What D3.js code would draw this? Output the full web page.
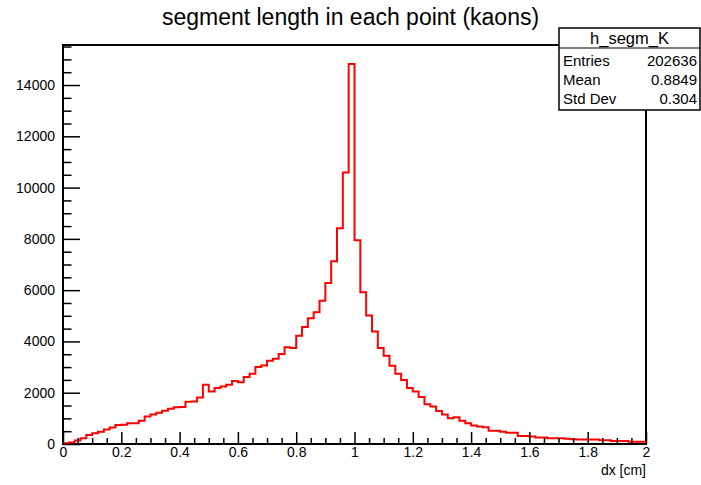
<!DOCTYPE html>
<html>
<head>
<meta charset="utf-8">
<script src="https://cdn.jsdelivr.net/npm/d3@7"></script>
<style>
  html, body { margin: 0; padding: 0; background: #fff; }
  svg { display: block; font-family: "Liberation Sans", Arial, Helvetica, sans-serif; }
</style>
</head>
<body>
<svg id="chart" width="701" height="485"></svg>
<script>
// ---- data ----
const title = "segment length in each point (kaons)";
const xLabel = "dx [cm]";
const histName = "h_segm_K";
const xMin = 0, xMax = 2, binWidth = 0.02;
const binCounts = [
  30, 60, 140, 220, 350, 420, 480, 570, 640, 740,
  750, 810, 810, 910, 1070, 1150, 1220, 1300, 1370, 1430,
  1440, 1650, 1660, 1810, 2310, 2050, 2180, 2240, 2310, 2460,
  2410, 2610, 2740, 3000, 3060, 3250, 3320, 3510, 3770, 3740,
  4220, 4560, 4900, 5140, 5590, 6280, 7130, 8410, 10590, 14820,
  7950, 5920, 5010, 4390, 3740, 3440, 3050, 2740, 2500, 2180,
  2050, 1830, 1550, 1460, 1290, 1150, 1000, 1040, 910, 810,
  720, 680, 650, 520, 520, 480, 440, 440, 310, 310,
  290, 250, 250, 220, 220, 220, 200, 190, 180, 180,
  180, 180, 145, 145, 120, 120, 120, 90, 90, 90
];
const xTicks = [0, 0.2, 0.4, 0.6, 0.8, 1, 1.2, 1.4, 1.6, 1.8, 2];
const yTicks = [0, 2000, 4000, 6000, 8000, 10000, 12000, 14000];
const statLabels = ["Entries", "Mean", "Std Dev"];
const statValues = ["202636", "0.8849", "0.304"];

// ---- layout ----
const W = 701, H = 485;
const frame = { left: 63, right: 646, top: 45, bottom: 444 };
const yMax = d3.max(binCounts) * 1.05;

const svg = d3.select("#chart");
const x = d3.scaleLinear().domain([xMin, xMax]).range([frame.left, frame.right]);
const y = d3.scaleLinear().domain([0, yMax]).range([frame.bottom, frame.top]);

// frame
svg.append("rect")
  .attr("x", frame.left).attr("y", frame.top)
  .attr("width", frame.right - frame.left).attr("height", frame.bottom - frame.top)
  .attr("fill", "none").attr("stroke", "#000").attr("stroke-width", 2);

// histogram step line
const pts = [[xMin, 0]];
binCounts.forEach((v, i) => pts.push([xMin + i * binWidth, v]));
pts.push([xMax, binCounts[binCounts.length - 1]]);
pts.push([xMax, 0]);
const line = d3.line().x(d => x(d[0])).y(d => y(d[1])).curve(d3.curveStepAfter);
svg.append("path").attr("d", line(pts))
  .attr("fill", "none").attr("stroke", "#ff0000").attr("stroke-width", 2)
  .attr("stroke-linejoin", "miter");

// x axis minor ticks
const xMinor = d3.range(0, 41).map(i => i * 0.05).filter(v => Math.abs(v * 5 - Math.round(v * 5)) > 1e-6);
const gxMinor = svg.append("g").attr("transform", `translate(0,${frame.bottom})`)
  .call(d3.axisBottom(x).tickValues(xMinor).tickSize(-6).tickFormat(""));
gxMinor.select(".domain").remove();
// x axis major
const gx = svg.append("g").attr("transform", `translate(0,${frame.bottom})`)
  .call(d3.axisBottom(x).tickValues(xTicks).tickSize(-12).tickPadding(3).tickFormat(d3.format("")));
gx.select(".domain").remove();
gx.selectAll("text").attr("font-size", 14).attr("fill", "#000")
  .attr("font-family", "'Liberation Sans', Arial, sans-serif");

// y axis minor
const yMinor = d3.range(0, 32).map(i => i * 500).filter(v => v % 2000 !== 0 && v <= yMax);
const gyMinor = svg.append("g").attr("transform", `translate(${frame.left},0)`)
  .call(d3.axisLeft(y).tickValues(yMinor).tickSize(-8.5).tickFormat(""));
gyMinor.select(".domain").remove();
const gy = svg.append("g").attr("transform", `translate(${frame.left},0)`)
  .call(d3.axisLeft(y).tickValues(yTicks).tickSize(-17).tickPadding(8).tickFormat(d3.format("")));
gy.select(".domain").remove();
gy.selectAll("text").attr("font-size", 14).attr("fill", "#000")
  .attr("font-family", "'Liberation Sans', Arial, sans-serif");
svg.selectAll(".tick line").attr("stroke", "#000").attr("stroke-width", 1.5);

// axis title
svg.append("text").attr("x", frame.right).attr("y", 475)
  .attr("text-anchor", "end").attr("font-size", 14).text(xLabel);

// title
svg.append("text").attr("x", W / 2).attr("y", 25)
  .attr("text-anchor", "middle").attr("font-size", 23).text(title);

// stats box
const box = { left: 559, right: 700, top: 28, head: 48, bottom: 110 };
svg.append("rect").attr("x", box.left).attr("y", box.top)
  .attr("width", box.right - box.left).attr("height", box.bottom - box.top)
  .attr("fill", "#fff").attr("stroke", "#000").attr("stroke-width", 1.5);
svg.append("line").attr("x1", box.left).attr("x2", box.right)
  .attr("y1", box.head).attr("y2", box.head).attr("stroke", "#000").attr("stroke-width", 1);
svg.append("text").attr("x", (box.left + box.right) / 2).attr("y", 44)
  .attr("text-anchor", "middle").attr("font-size", 16.5).text(histName);
const rowY = [66, 85, 104];
statLabels.forEach((lab, i) => {
  svg.append("text").attr("x", box.left + 4).attr("y", rowY[i])
    .attr("font-size", 15).text(lab);
  svg.append("text").attr("x", box.right - 3).attr("y", rowY[i])
    .attr("text-anchor", "end").attr("font-size", 15).text(statValues[i]);
});
</script>
</body>
</html>
